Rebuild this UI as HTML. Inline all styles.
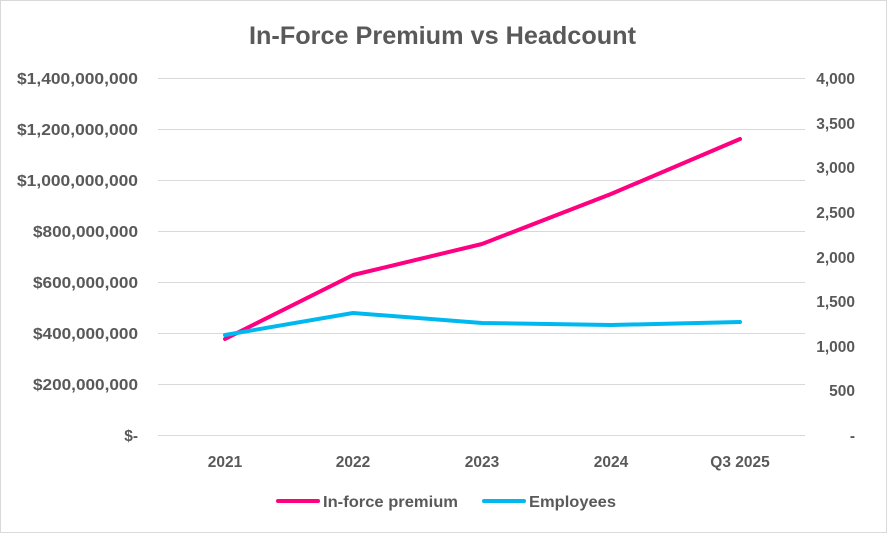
<!DOCTYPE html>
<html><head><style>
body{margin:0;background:#fff;}
svg{display:block;font-family:"Liberation Sans",sans-serif;}
text{fill:#595959;font-weight:bold;}
</style></head><body>
<svg width="887" height="533" viewBox="0 0 887 533">
<rect x="0.5" y="0.5" width="886" height="532" fill="#fff" stroke="#d9d9d9"/>
<text x="249" y="44" font-size="25" textLength="387" lengthAdjust="spacingAndGlyphs">In-Force Premium vs Headcount</text>
<g stroke="#d9d9d9" stroke-width="1">
<line x1="158" x2="805" y1="78.5" y2="78.5"/>
<line x1="158" x2="805" y1="129.5" y2="129.5"/>
<line x1="158" x2="805" y1="180.5" y2="180.5"/>
<line x1="158" x2="805" y1="231.5" y2="231.5"/>
<line x1="158" x2="805" y1="282.5" y2="282.5"/>
<line x1="158" x2="805" y1="333.5" y2="333.5"/>
<line x1="158" x2="805" y1="384.5" y2="384.5"/>
<line x1="158" x2="805" y1="435.5" y2="435.5"/>
</g>
<g font-size="15.5">
<text x="17" y="84" textLength="121" lengthAdjust="spacingAndGlyphs">$1,400,000,000</text>
<text x="17" y="135" textLength="121" lengthAdjust="spacingAndGlyphs">$1,200,000,000</text>
<text x="17" y="186" textLength="121" lengthAdjust="spacingAndGlyphs">$1,000,000,000</text>
<text x="33" y="237" textLength="105" lengthAdjust="spacingAndGlyphs">$800,000,000</text>
<text x="33" y="288" textLength="105" lengthAdjust="spacingAndGlyphs">$600,000,000</text>
<text x="33" y="339" textLength="105" lengthAdjust="spacingAndGlyphs">$400,000,000</text>
<text x="33" y="390" textLength="105" lengthAdjust="spacingAndGlyphs">$200,000,000</text>
<text x="138" y="441" text-anchor="end">$-</text>
</g>
<g font-size="15.5" text-anchor="end">
<text x="855" y="84">4,000</text>
<text x="855" y="129">3,500</text>
<text x="855" y="173">3,000</text>
<text x="855" y="218">2,500</text>
<text x="855" y="263">2,000</text>
<text x="855" y="307">1,500</text>
<text x="855" y="352">1,000</text>
<text x="855" y="396">500</text>
<text x="855" y="441">-</text>
</g>
<g font-size="15.5" text-anchor="middle">
<text x="225" y="467">2021</text>
<text x="353" y="467">2022</text>
<text x="482" y="467">2023</text>
<text x="611" y="467">2024</text>
<text x="740" y="467">Q3 2025</text>
</g>
<polyline points="225,339 353,275 482,244 611,194 740,139" fill="none" stroke="#ff0080" stroke-width="4" stroke-linejoin="round" stroke-linecap="round"/>
<polyline points="225,335 353,313 482,323 611,325 740,322" fill="none" stroke="#00b8f0" stroke-width="4" stroke-linejoin="round" stroke-linecap="round"/>
<line x1="278" x2="318" y1="501" y2="501" stroke="#ff0080" stroke-width="4" stroke-linecap="round"/>
<text x="323" y="507" font-size="15.5" textLength="135" lengthAdjust="spacingAndGlyphs">In-force premium</text>
<line x1="484" x2="524" y1="501" y2="501" stroke="#00b8f0" stroke-width="4" stroke-linecap="round"/>
<text x="529" y="507" font-size="15.5" textLength="87" lengthAdjust="spacingAndGlyphs">Employees</text>
</svg>
</body></html>
